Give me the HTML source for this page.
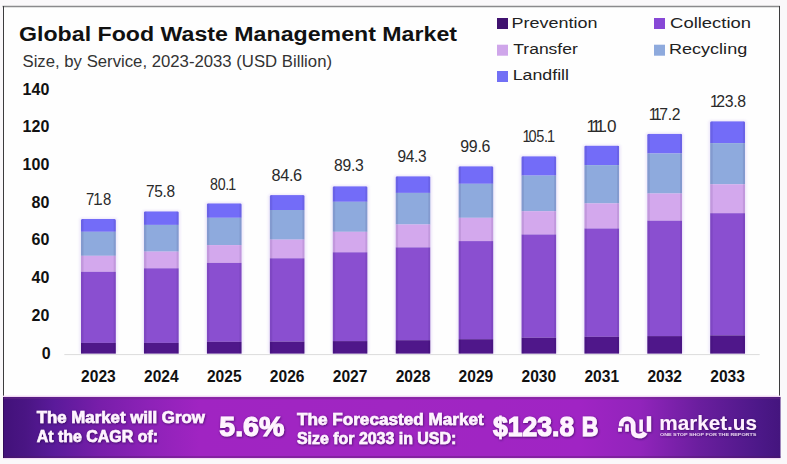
<!DOCTYPE html>
<html><head><meta charset="utf-8">
<style>
html,body{margin:0;padding:0;}
body{width:787px;height:464px;overflow:hidden;background:#faf8fa;}
svg{display:block;}
text{font-family:"Liberation Sans",Arial,sans-serif;}
.title{font-weight:bold;font-size:20.3px;fill:#111;}
.sub{font-size:16.3px;fill:#333;}
.leg{font-size:15.5px;fill:#222;}
.val{font-size:16px;fill:#2a2a2a;}
.yr{font-size:16px;font-weight:bold;fill:#111;}
.ax{font-size:16px;font-weight:bold;fill:#111;}
.ft{font-size:16px;font-weight:bold;fill:#fff4ff;stroke:#fff4ff;stroke-width:0.6px;}
.big{font-weight:bold;fill:#fff4ff;stroke:#fff4ff;stroke-width:1.1px;}
</style></head>
<body>
<svg width="787" height="464" viewBox="0 0 787 464">
<defs>
<linearGradient id="fg" x1="0" y1="0" x2="1" y2="0">
<stop offset="0" stop-color="#42117a"/>
<stop offset="0.03" stop-color="#4a1584"/>
<stop offset="0.065" stop-color="#5a1a9a"/>
<stop offset="0.125" stop-color="#781eaa"/>
<stop offset="0.19" stop-color="#8e22b8"/>
<stop offset="0.253" stop-color="#a024c2"/>
<stop offset="0.5" stop-color="#a026c2"/>
<stop offset="0.742" stop-color="#a024c4"/>
<stop offset="0.82" stop-color="#9124bb"/>
<stop offset="0.896" stop-color="#6a1e9e"/>
<stop offset="0.973" stop-color="#4c1888"/>
<stop offset="1" stop-color="#44157e"/>
</linearGradient>
<filter id="gl" x="-20%" y="-5%" width="140%" height="110%"><feGaussianBlur stdDeviation="0.8"/></filter>
<filter id="sh" x="-10%" y="-30%" width="120%" height="160%">
<feDropShadow dx="0.6" dy="0.8" stdDeviation="0.8" flood-color="#2a0548" flood-opacity="0.75"/>
</filter>
<clipPath id="cb0"><rect x="80.90" y="218.90" width="35.0" height="137.70" rx="1.5"/></clipPath>
<clipPath id="cb1"><rect x="143.82" y="211.30" width="35.0" height="145.30" rx="1.5"/></clipPath>
<clipPath id="cb2"><rect x="206.74" y="203.30" width="35.0" height="153.30" rx="1.5"/></clipPath>
<clipPath id="cb3"><rect x="269.66" y="195.10" width="35.0" height="161.50" rx="1.5"/></clipPath>
<clipPath id="cb4"><rect x="332.58" y="186.20" width="35.0" height="170.40" rx="1.5"/></clipPath>
<clipPath id="cb5"><rect x="395.50" y="176.20" width="35.0" height="180.40" rx="1.5"/></clipPath>
<clipPath id="cb6"><rect x="458.42" y="166.20" width="35.0" height="190.40" rx="1.5"/></clipPath>
<clipPath id="cb7"><rect x="521.34" y="156.20" width="35.0" height="200.40" rx="1.5"/></clipPath>
<clipPath id="cb8"><rect x="584.26" y="145.60" width="35.0" height="211.00" rx="1.5"/></clipPath>
<clipPath id="cb9"><rect x="647.18" y="133.80" width="35.0" height="222.80" rx="1.5"/></clipPath>
<clipPath id="cb10"><rect x="710.10" y="121.20" width="35.0" height="235.40" rx="1.5"/></clipPath>
</defs>
<!-- frame -->
<rect x="3" y="6" width="777" height="452" fill="#fefefe"/>
<line x1="2.5" y1="6.5" x2="780" y2="6.5" stroke="#8a8a8c" stroke-width="1.4"/>
<line x1="3.5" y1="6" x2="3.5" y2="458" stroke="#3c3c3e" stroke-width="1"/>
<line x1="779.5" y1="6" x2="779.5" y2="458" stroke="#3c3c3e" stroke-width="1"/>
<!-- title -->
<text x="19" y="40.5" class="title" textLength="438" lengthAdjust="spacingAndGlyphs">Global Food Waste Management Market</text>
<text x="22.5" y="67.4" class="sub" textLength="309.5" lengthAdjust="spacingAndGlyphs">Size, by Service, 2023-2033 (USD Billion)</text>
<!-- legend -->
<rect x="497" y="18" width="11" height="11" fill="#40126f"/>
<text x="511.6" y="28.2" class="leg" textLength="85.8" lengthAdjust="spacingAndGlyphs">Prevention</text>
<rect x="497" y="44.7" width="11" height="11" fill="#cfa6ea"/>
<text x="513.3" y="54.1" class="leg" textLength="64.5" lengthAdjust="spacingAndGlyphs">Transfer</text>
<rect x="497" y="71" width="11" height="11" fill="#7270f5"/>
<text x="512.7" y="79.9" class="leg" textLength="56.3" lengthAdjust="spacingAndGlyphs">Landfill</text>
<rect x="654" y="18" width="11" height="11" fill="#8748d6"/>
<text x="670.1" y="28.2" class="leg" textLength="80.9" lengthAdjust="spacingAndGlyphs">Collection</text>
<rect x="654" y="44.7" width="11" height="11" fill="#8eaadd"/>
<text x="669" y="53.8" class="leg" textLength="78.2" lengthAdjust="spacingAndGlyphs">Recycling</text>
<!-- baseline -->
<line x1="64.3" y1="354.6" x2="759.7" y2="354.6" stroke="#dcdcdc" stroke-width="1"/>
<rect x="79.30" y="217.70" width="38.2" height="135.90" rx="2.5" fill="#e2d8f7" opacity="0.55" filter="url(#gl)"/>
<g clip-path="url(#cb0)">
<rect x="80.90" y="218.90" width="35.0" height="12.90" fill="#736cf8"/>
<rect x="80.90" y="231.80" width="35.0" height="24.00" fill="#8eaadd"/>
<rect x="80.90" y="255.80" width="35.0" height="16.00" fill="#d3a8ed"/>
<rect x="80.90" y="271.80" width="35.0" height="71.10" fill="#8a4fd0"/>
<rect x="80.90" y="342.90" width="35.0" height="10.70" fill="#4f178a"/>
<rect x="80.90" y="218.90" width="2.6" height="134.70" fill="#1a0040" opacity="0.09"/>
<rect x="113.70" y="218.90" width="2.2" height="134.70" fill="#1a0040" opacity="0.09"/>
</g>
<rect x="142.22" y="210.10" width="38.2" height="143.50" rx="2.5" fill="#e2d8f7" opacity="0.55" filter="url(#gl)"/>
<g clip-path="url(#cb1)">
<rect x="143.82" y="211.30" width="35.0" height="13.60" fill="#736cf8"/>
<rect x="143.82" y="224.90" width="35.0" height="26.70" fill="#8eaadd"/>
<rect x="143.82" y="251.60" width="35.0" height="16.70" fill="#d3a8ed"/>
<rect x="143.82" y="268.30" width="35.0" height="74.60" fill="#8a4fd0"/>
<rect x="143.82" y="342.90" width="35.0" height="10.70" fill="#4f178a"/>
<rect x="143.82" y="211.30" width="2.6" height="142.30" fill="#1a0040" opacity="0.09"/>
<rect x="176.62" y="211.30" width="2.2" height="142.30" fill="#1a0040" opacity="0.09"/>
</g>
<rect x="205.14" y="202.10" width="38.2" height="151.50" rx="2.5" fill="#e2d8f7" opacity="0.55" filter="url(#gl)"/>
<g clip-path="url(#cb2)">
<rect x="206.74" y="203.30" width="35.0" height="14.50" fill="#736cf8"/>
<rect x="206.74" y="217.80" width="35.0" height="27.30" fill="#8eaadd"/>
<rect x="206.74" y="245.10" width="35.0" height="17.80" fill="#d3a8ed"/>
<rect x="206.74" y="262.90" width="35.0" height="78.90" fill="#8a4fd0"/>
<rect x="206.74" y="341.80" width="35.0" height="11.80" fill="#4f178a"/>
<rect x="206.74" y="203.30" width="2.6" height="150.30" fill="#1a0040" opacity="0.09"/>
<rect x="239.54" y="203.30" width="2.2" height="150.30" fill="#1a0040" opacity="0.09"/>
</g>
<rect x="268.06" y="193.90" width="38.2" height="159.70" rx="2.5" fill="#e2d8f7" opacity="0.55" filter="url(#gl)"/>
<g clip-path="url(#cb3)">
<rect x="269.66" y="195.10" width="35.0" height="14.90" fill="#736cf8"/>
<rect x="269.66" y="210.00" width="35.0" height="29.60" fill="#8eaadd"/>
<rect x="269.66" y="239.60" width="35.0" height="18.70" fill="#d3a8ed"/>
<rect x="269.66" y="258.30" width="35.0" height="83.30" fill="#8a4fd0"/>
<rect x="269.66" y="341.60" width="35.0" height="12.00" fill="#4f178a"/>
<rect x="269.66" y="195.10" width="2.6" height="158.50" fill="#1a0040" opacity="0.09"/>
<rect x="302.46" y="195.10" width="2.2" height="158.50" fill="#1a0040" opacity="0.09"/>
</g>
<rect x="330.98" y="185.00" width="38.2" height="168.60" rx="2.5" fill="#e2d8f7" opacity="0.55" filter="url(#gl)"/>
<g clip-path="url(#cb4)">
<rect x="332.58" y="186.20" width="35.0" height="15.60" fill="#736cf8"/>
<rect x="332.58" y="201.80" width="35.0" height="30.00" fill="#8eaadd"/>
<rect x="332.58" y="231.80" width="35.0" height="20.50" fill="#d3a8ed"/>
<rect x="332.58" y="252.30" width="35.0" height="88.80" fill="#8a4fd0"/>
<rect x="332.58" y="341.10" width="35.0" height="12.50" fill="#4f178a"/>
<rect x="332.58" y="186.20" width="2.6" height="167.40" fill="#1a0040" opacity="0.09"/>
<rect x="365.38" y="186.20" width="2.2" height="167.40" fill="#1a0040" opacity="0.09"/>
</g>
<rect x="393.90" y="175.00" width="38.2" height="178.60" rx="2.5" fill="#e2d8f7" opacity="0.55" filter="url(#gl)"/>
<g clip-path="url(#cb5)">
<rect x="395.50" y="176.20" width="35.0" height="16.70" fill="#736cf8"/>
<rect x="395.50" y="192.90" width="35.0" height="31.60" fill="#8eaadd"/>
<rect x="395.50" y="224.50" width="35.0" height="22.90" fill="#d3a8ed"/>
<rect x="395.50" y="247.40" width="35.0" height="92.80" fill="#8a4fd0"/>
<rect x="395.50" y="340.20" width="35.0" height="13.40" fill="#4f178a"/>
<rect x="395.50" y="176.20" width="2.6" height="177.40" fill="#1a0040" opacity="0.09"/>
<rect x="428.30" y="176.20" width="2.2" height="177.40" fill="#1a0040" opacity="0.09"/>
</g>
<rect x="456.82" y="165.00" width="38.2" height="188.60" rx="2.5" fill="#e2d8f7" opacity="0.55" filter="url(#gl)"/>
<g clip-path="url(#cb6)">
<rect x="458.42" y="166.20" width="35.0" height="17.60" fill="#736cf8"/>
<rect x="458.42" y="183.80" width="35.0" height="34.00" fill="#8eaadd"/>
<rect x="458.42" y="217.80" width="35.0" height="23.30" fill="#d3a8ed"/>
<rect x="458.42" y="241.10" width="35.0" height="98.10" fill="#8a4fd0"/>
<rect x="458.42" y="339.20" width="35.0" height="14.40" fill="#4f178a"/>
<rect x="458.42" y="166.20" width="2.6" height="187.40" fill="#1a0040" opacity="0.09"/>
<rect x="491.22" y="166.20" width="2.2" height="187.40" fill="#1a0040" opacity="0.09"/>
</g>
<rect x="519.74" y="155.00" width="38.2" height="198.60" rx="2.5" fill="#e2d8f7" opacity="0.55" filter="url(#gl)"/>
<g clip-path="url(#cb7)">
<rect x="521.34" y="156.20" width="35.0" height="19.40" fill="#736cf8"/>
<rect x="521.34" y="175.60" width="35.0" height="35.60" fill="#8eaadd"/>
<rect x="521.34" y="211.20" width="35.0" height="23.30" fill="#d3a8ed"/>
<rect x="521.34" y="234.50" width="35.0" height="103.20" fill="#8a4fd0"/>
<rect x="521.34" y="337.70" width="35.0" height="15.90" fill="#4f178a"/>
<rect x="521.34" y="156.20" width="2.6" height="197.40" fill="#1a0040" opacity="0.09"/>
<rect x="554.14" y="156.20" width="2.2" height="197.40" fill="#1a0040" opacity="0.09"/>
</g>
<rect x="582.66" y="144.40" width="38.2" height="209.20" rx="2.5" fill="#e2d8f7" opacity="0.55" filter="url(#gl)"/>
<g clip-path="url(#cb8)">
<rect x="584.26" y="145.60" width="35.0" height="19.50" fill="#736cf8"/>
<rect x="584.26" y="165.10" width="35.0" height="38.30" fill="#8eaadd"/>
<rect x="584.26" y="203.40" width="35.0" height="25.10" fill="#d3a8ed"/>
<rect x="584.26" y="228.50" width="35.0" height="108.30" fill="#8a4fd0"/>
<rect x="584.26" y="336.80" width="35.0" height="16.80" fill="#4f178a"/>
<rect x="584.26" y="145.60" width="2.6" height="208.00" fill="#1a0040" opacity="0.09"/>
<rect x="617.06" y="145.60" width="2.2" height="208.00" fill="#1a0040" opacity="0.09"/>
</g>
<rect x="645.58" y="132.60" width="38.2" height="221.00" rx="2.5" fill="#e2d8f7" opacity="0.55" filter="url(#gl)"/>
<g clip-path="url(#cb9)">
<rect x="647.18" y="133.80" width="35.0" height="19.70" fill="#736cf8"/>
<rect x="647.18" y="153.50" width="35.0" height="40.00" fill="#8eaadd"/>
<rect x="647.18" y="193.50" width="35.0" height="27.20" fill="#d3a8ed"/>
<rect x="647.18" y="220.70" width="35.0" height="115.40" fill="#8a4fd0"/>
<rect x="647.18" y="336.10" width="35.0" height="17.50" fill="#4f178a"/>
<rect x="647.18" y="133.80" width="2.6" height="219.80" fill="#1a0040" opacity="0.09"/>
<rect x="679.98" y="133.80" width="2.2" height="219.80" fill="#1a0040" opacity="0.09"/>
</g>
<rect x="708.50" y="120.00" width="38.2" height="233.60" rx="2.5" fill="#e2d8f7" opacity="0.55" filter="url(#gl)"/>
<g clip-path="url(#cb10)">
<rect x="710.10" y="121.20" width="35.0" height="21.90" fill="#736cf8"/>
<rect x="710.10" y="143.10" width="35.0" height="41.20" fill="#8eaadd"/>
<rect x="710.10" y="184.30" width="35.0" height="28.90" fill="#d3a8ed"/>
<rect x="710.10" y="213.20" width="35.0" height="122.20" fill="#8a4fd0"/>
<rect x="710.10" y="335.40" width="35.0" height="18.20" fill="#4f178a"/>
<rect x="710.10" y="121.20" width="2.6" height="232.40" fill="#1a0040" opacity="0.09"/>
<rect x="742.90" y="121.20" width="2.2" height="232.40" fill="#1a0040" opacity="0.09"/>
</g>
<text x="86.00" y="204.50" class="val" dx="0 -1.2 -2.5 -0.3" textLength="25.2" lengthAdjust="spacingAndGlyphs">71.8</text>
<text x="146.00" y="197.40" class="val" dx="0 -0.3 -0.3 -0.3" textLength="29.2" lengthAdjust="spacingAndGlyphs">75.8</text>
<text x="210.00" y="189.60" class="val" dx="0 -0.3 -0.3 -1.2" textLength="26.099999999999998" lengthAdjust="spacingAndGlyphs">80.1</text>
<text x="271.40" y="180.50" class="val" dx="0 -0.3 -0.3 -0.3" textLength="30.8" lengthAdjust="spacingAndGlyphs">84.6</text>
<text x="334.10" y="171.10" class="val" dx="0 -0.3 -0.3 -0.3" textLength="29.7" lengthAdjust="spacingAndGlyphs">89.3</text>
<text x="397.50" y="162.20" class="val" dx="0 -0.3 -0.3 -0.3" textLength="29.2" lengthAdjust="spacingAndGlyphs">94.3</text>
<text x="460.30" y="152.40" class="val" dx="0 -0.3 -0.3 -0.3" textLength="30.099999999999998" lengthAdjust="spacingAndGlyphs">99.6</text>
<text x="522.60" y="142.40" class="val" dx="0 -2.5 -0.3 -0.3 -1.2" textLength="32.4" lengthAdjust="spacingAndGlyphs">105.1</text>
<text x="586.60" y="131.70" class="val" dx="0 -3.4 -3.4 -2.5 -0.3" textLength="30.0" lengthAdjust="spacingAndGlyphs">111.0</text>
<text x="648.80" y="119.70" class="val" dx="0 -3.4 -2.5 -0.3 -0.3" textLength="31.7" lengthAdjust="spacingAndGlyphs">117.2</text>
<text x="709.90" y="106.50" class="val" dx="0 -2.5 -0.3 -0.3 -0.3" textLength="36.2" lengthAdjust="spacingAndGlyphs">123.8</text>
<text x="81.10" y="382.3" class="yr" textLength="34.6" lengthAdjust="spacingAndGlyphs">2023</text>
<text x="144.02" y="382.3" class="yr" textLength="34.6" lengthAdjust="spacingAndGlyphs">2024</text>
<text x="206.94" y="382.3" class="yr" textLength="34.6" lengthAdjust="spacingAndGlyphs">2025</text>
<text x="269.86" y="382.3" class="yr" textLength="34.6" lengthAdjust="spacingAndGlyphs">2026</text>
<text x="332.78" y="382.3" class="yr" textLength="34.6" lengthAdjust="spacingAndGlyphs">2027</text>
<text x="395.70" y="382.3" class="yr" textLength="34.6" lengthAdjust="spacingAndGlyphs">2028</text>
<text x="458.62" y="382.3" class="yr" textLength="34.6" lengthAdjust="spacingAndGlyphs">2029</text>
<text x="521.54" y="382.3" class="yr" textLength="34.6" lengthAdjust="spacingAndGlyphs">2030</text>
<text x="584.46" y="382.3" class="yr" textLength="34.6" lengthAdjust="spacingAndGlyphs">2031</text>
<text x="647.38" y="382.3" class="yr" textLength="34.6" lengthAdjust="spacingAndGlyphs">2032</text>
<text x="710.30" y="382.3" class="yr" textLength="34.6" lengthAdjust="spacingAndGlyphs">2033</text>
<text x="50.6" y="358.50" text-anchor="end" class="ax">0</text>
<text x="49.3" y="320.80" text-anchor="end" class="ax">20</text>
<text x="49.3" y="283.10" text-anchor="end" class="ax">40</text>
<text x="49.3" y="245.40" text-anchor="end" class="ax">60</text>
<text x="49.3" y="207.70" text-anchor="end" class="ax">80</text>
<text x="49.3" y="170.00" text-anchor="end" class="ax">100</text>
<text x="49.3" y="132.30" text-anchor="end" class="ax">120</text>
<text x="49.3" y="94.60" text-anchor="end" class="ax">140</text>
<!-- footer -->
<rect x="3" y="395.6" width="777.5" height="1.4" fill="#f2d9f4"/>
<rect x="3" y="458" width="777.5" height="1.2" fill="#f4dcf5"/>
<rect x="3" y="397" width="777.5" height="61" fill="url(#fg)"/>
<rect x="3" y="397.2" width="777.5" height="2" fill="#6a2a80" fill-opacity="0.45"/>
<rect x="3" y="456.2" width="777.5" height="1.6" fill="#4a1a60" fill-opacity="0.4"/>
<g filter="url(#sh)">
<text x="36.8" y="423.2" class="ft" textLength="168" lengthAdjust="spacingAndGlyphs">The Market will Grow</text>
<text x="36.8" y="441.9" class="ft" textLength="121.2" lengthAdjust="spacingAndGlyphs">At the CAGR of:</text>
<text x="219.3" y="436.4" class="big" font-size="28" textLength="65" lengthAdjust="spacingAndGlyphs">5.6%</text>
<text x="297" y="424.9" class="ft" textLength="186.7" lengthAdjust="spacingAndGlyphs">The Forecasted Market</text>
<text x="297" y="443.6" class="ft" textLength="159.2" lengthAdjust="spacingAndGlyphs">Size for 2033 in USD:</text>
<text x="493.1" y="436.3" class="big" font-size="27" textLength="81.1" lengthAdjust="spacingAndGlyphs">$123.8</text>
<text x="581.8" y="436.3" class="big" font-size="27" textLength="16.6" lengthAdjust="spacingAndGlyphs">B</text>
</g>
<line x1="3.5" y1="397" x2="3.5" y2="458" stroke="#1e0535" stroke-opacity="0.45" stroke-width="1"/>
<!-- logo -->
<g fill="#fff0ff" filter="url(#sh)">
<rect x="618.1" y="427.8" width="3.7" height="3.9"/>
<path d="M621.2 426.3 L621.2 424.8 A6 6 0 0 1 633.2 424.8 L633.2 430.5 Q633.2 436 639 436 Q643.6 436 645.3 432.6" fill="none" stroke="#fff0ff" stroke-width="4.6"/>
<rect x="625.2" y="424.2" width="3.6" height="7.5"/>
<rect x="639.4" y="419.5" width="3.5" height="12.2"/>
<rect x="646.8" y="416.2" width="4.3" height="15.5"/>
<text x="659.3" y="429.5" font-size="20" font-weight="bold" textLength="97.7" lengthAdjust="spacingAndGlyphs">market.us</text>
<text x="660" y="435.6" font-size="3.6" font-weight="bold" fill-opacity="0.8" textLength="96.3" lengthAdjust="spacingAndGlyphs">ONE STOP SHOP FOR THE REPORTS</text>
</g>
</svg>
</body></html>
